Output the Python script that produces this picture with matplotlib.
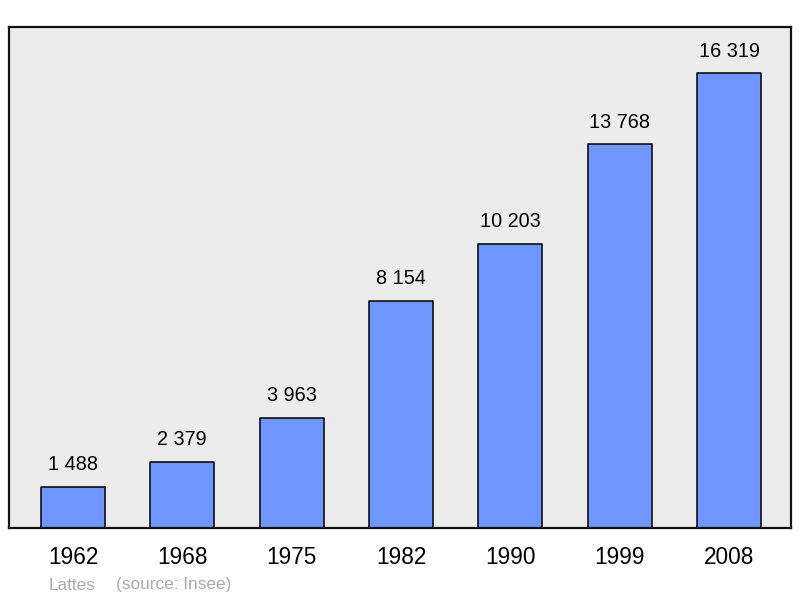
import matplotlib
matplotlib.use("Agg")
import matplotlib.pyplot as plt

plt.rcParams['font.family'] = ['Liberation Sans', 'DejaVu Sans']

years = ['1962', '1968', '1975', '1982', '1990', '1999', '2008']
population = [1488, 2379, 3963, 8154, 10203, 13768, 16319]
labels = ['1 488', '2 379', '3 963', '8 154', '10 203', '13 768', '16 319']

fig = plt.figure(figsize=(8, 5.98), dpi=100)
ax = fig.add_axes([9/800, 1 - 528/598, 782/800, 501/598])
ax.set_facecolor('#ececec')

x = range(len(years))
ax.bar(x, population, width=0.585, color='#7096ff', edgecolor='black',
       linewidth=1.1, joinstyle='round', zorder=2)

for i, (v, t) in enumerate(zip(population, labels)):
    ax.annotate(t, (i, v), xytext=(0, 15.8), textcoords='offset points',
                ha='center', va='center', fontsize=14.3)

ax.set_xlim(-0.585, 6.567)
ax.set_ylim(0, 17970)
ax.set_yticks([])
ax.set_xticks(list(x))
ax.set_xticklabels(years, fontsize=16.3)
ax.tick_params(axis='x', length=0, pad=13)
for s in ax.spines.values():
    s.set_linewidth(1.6)
    s.set_color('#111111')

fig.text(49/800, 1 - 585/598, 'Lattes', fontsize=12.4,
         color='#aaaaaa', va='center', ha='left')
fig.text(116/800, 1 - 585/598, '(source: Insee)', fontsize=12.4,
         color='#aaaaaa', va='center', ha='left')

fig.savefig('out.png', dpi=100)
